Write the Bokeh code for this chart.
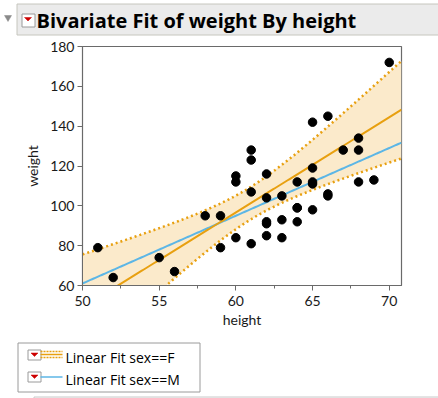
import numpy as np
from bokeh.plotting import figure
from bokeh.layouts import column
from bokeh.models import Range1d, FixedTicker
from bokeh.core.properties import value
from bokeh.embed import file_html
from bokeh.resources import INLINE

# ---- data (Big Class) ----
height = [59, 61, 55, 66, 52, 60, 61, 51, 60, 61, 56, 65, 63, 58, 59, 61, 62, 65, 63, 62,
          63, 64, 65, 64, 68, 64, 69, 62, 64, 67, 65, 66, 62, 66, 65, 60, 68, 62, 68, 70]
weight = [95, 123, 74, 145, 64, 84, 128, 79, 112, 107, 67, 98, 105, 95, 79, 81, 91, 142, 84, 85,
          93, 99, 119, 92, 112, 99, 113, 92, 112, 128, 111, 105, 104, 106, 112, 115, 128, 116, 134, 172]
sex = ["F", "F", "F", "F", "F", "M", "M", "M", "F", "F", "F", "M", "M", "M", "M", "F", "F", "F", "F", "F",
       "M", "M", "M", "M", "M", "M", "M", "F", "F", "M", "M", "M", "M", "M", "F", "F", "M", "F", "M", "M"]
x_ticks = [50, 55, 60, 65, 70]
y_ticks = [60, 80, 100, 120, 140, 160, 180]
title_text = "Bivariate Fit of weight By height"
legend_labels = ["Linear Fit sex==F", "Linear Fit sex==M"]
T_975_16 = 2.1199  # t quantile for 95% CI, df = 16

W = 438
FONT = "Lato"
TFONT = "Open Sans"
ORANGE = "#E8A010"
BLUE = "#5CB6E6"
BAND = "#FBEACB"
RED = "#CC0000"


def deco_fig(y0, y1):
    """Plain drawing surface whose data units are page pixels (y downward)."""
    f = figure(width=W, height=y1 - y0, output_backend="svg", toolbar_location=None,
               x_range=Range1d(0, W), y_range=Range1d(y1, y0),
               x_axis_location=None, y_axis_location=None, min_border=0,
               frame_align=False)
    f.grid.visible = False
    f.outline_line_color = None
    f.background_fill_color = "white"
    f.border_fill_color = "white"
    return f


def icon(f, l, t):
    f.quad(left=l, right=l + 13, top=t, bottom=t + 10, fill_color="white",
           line_color="#9a9a9a", line_width=1)
    f.patch([l + 3, l + 10, l + 6.5], [t + 3, t + 3, t + 6.5], fill_color=RED, line_color=RED,
            line_width=0.5)


# ---------------- title bar ----------------
tf = deco_fig(0, 38)
tf.quad(left=16.5, right=445, top=3.5, bottom=34.5, fill_color="#EBEBEB",
        line_color="#C6C6BE", line_width=1)
tf.patch([4, 11, 7.5], [15, 15, 21], fill_color="#8a8a8a", line_color="#8a8a8a", line_width=0.5)
tf.quad(left=21.5, right=34.5, top=13.5, bottom=26.5, fill_color="white",
        line_color="#9a9a9a", line_width=1)
tf.patch([24, 31, 27.5], [17, 17, 20.5], fill_color=RED, line_color=RED, line_width=0.5)
tf.text(x=[36], y=[20], text=[title_text], text_font=value(TFONT), text_font_size=value("20px"),
        text_font_style="bold", text_color="black", text_baseline="middle")

# ---------------- main plot ----------------
TOP0 = 38
FL, FT, FR, FB = 82, 46, 401, 285
MH = 338 - TOP0
p = figure(width=W, height=MH, output_backend="svg", toolbar_location=None,
           x_range=Range1d(50, 70.8), y_range=Range1d(60, 180),
           min_border_left=FL, min_border_right=W - FR,
           min_border_top=FT - TOP0, min_border_bottom=338 - FB,
           frame_align=False)
p.grid.visible = False
p.outline_line_color = "#6a6a6a"
p.outline_line_width = 1.2
p.background_fill_color = "white"
p.border_fill_color = "white"

for ax in (p.xaxis[0], p.yaxis[0]):
    ax.axis_line_color = "#6a6a6a"
    ax.major_tick_line_color = "#6a6a6a"
    ax.minor_tick_line_color = "#6a6a6a"
    ax.major_tick_in = 0
    ax.minor_tick_in = 0
    ax.major_label_text_font = FONT
    ax.major_label_text_font_size = "14px"
    ax.major_label_text_color = "#1a1a1a"
    ax.axis_label_text_font = FONT
    ax.axis_label_text_font_size = "14px"
    ax.axis_label_text_font_style = "normal"
    ax.axis_label_text_color = "#1a1a1a"

p.xaxis.ticker = FixedTicker(ticks=x_ticks, minor_ticks=[52.5, 57.5, 62.5, 67.5])
p.yaxis.ticker = FixedTicker(ticks=y_ticks)
p.xaxis.major_tick_out = 5
p.xaxis.minor_tick_out = 3
p.yaxis.major_tick_out = 5
p.yaxis.minor_tick_out = 0
p.xaxis.axis_label = "height"
p.yaxis.axis_label = "weight"
p.xaxis.major_label_standoff = 5
p.yaxis.major_label_standoff = 3
p.xaxis.axis_label_standoff = 2
p.yaxis.axis_label_standoff = 6

# fits computed from the data
h = np.array(height, float)
w = np.array(weight, float)
s = np.array(sex)
xs = np.linspace(50, 70.8, 200)


def fit(mask):
    x, y = h[mask], w[mask]
    n = len(x)
    b, a = np.polyfit(x, y, 1)
    resid = y - (a + b * x)
    se = np.sqrt(np.sum(resid ** 2) / (n - 2))
    sxx = np.sum((x - x.mean()) ** 2)
    yhat = a + b * xs
    half = T_975_16 * se * np.sqrt(1.0 / n + (xs - x.mean()) ** 2 / sxx)
    return yhat, yhat - half, yhat + half


fF, loF, hiF = fit(s == "F")
fM, _, _ = fit(s == "M")

p.varea(x=xs, y1=loF, y2=hiF, fill_color=BAND, fill_alpha=1)
p.line(xs, loF, line_color=ORANGE, line_width=2.5, line_dash="2 3")
p.line(xs, hiF, line_color=ORANGE, line_width=2.5, line_dash="2 3")
p.line(xs, fM, line_color=BLUE, line_width=2)
p.line(xs, fF, line_color=ORANGE, line_width=2)
p.scatter(height, weight, size=8.5, fill_color="black", line_color="black")

# ---------------- legend ----------------
lf = deco_fig(338, 398)
lf.quad(left=17.5, right=199.5, top=342.5, bottom=391.5, fill_color="white",
        line_color="#9a9a9a", line_width=1)
icon(lf, 27.5, 349.5)
lf.line([40, 62], [351, 351], line_color=ORANGE, line_width=1.5, line_dash="2 1")
lf.line([40, 62], [354, 354], line_color=ORANGE, line_width=1.5)
lf.line([40, 62], [357, 357], line_color=ORANGE, line_width=1.5, line_dash="2 1")
icon(lf, 27.5, 371.5)
lf.line([40, 62], [376.5, 376.5], line_color=BLUE, line_width=1.5)
lf.text(x=[65, 65], y=[357, 379], text=legend_labels, text_font=value(TFONT),
        text_font_size=value("14px"), text_color="black", text_baseline="middle")
lf.quad(left=33.5, right=445, top=396.5, bottom=405, fill_color="#FAFAFA",
        line_color="#C8C8C8", line_width=1)

layout = column(tf, p, lf, spacing=0)
open("out.html", "w").write(file_html(layout, INLINE))
